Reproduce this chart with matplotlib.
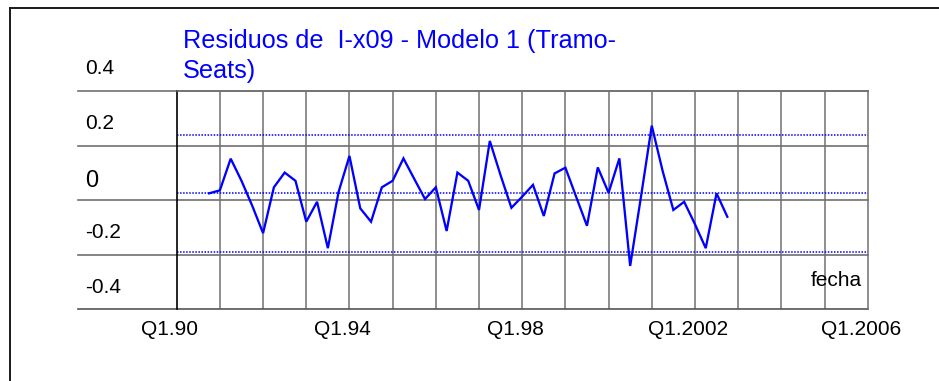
import matplotlib
matplotlib.use("Agg")
import matplotlib.pyplot as plt
import matplotlib.transforms as mtransforms
from matplotlib.lines import Line2D
import pandas as pd

plt.rcParams["font.family"] = ["Liberation Sans", "DejaVu Sans"]

# Quarterly residuals of model 1 (TRAMO-SEATS), 1990Q4 .. 2002Q4
start_quarter = "1990Q4"
residuals = [
    0.025, 0.036, 0.152, 0.071, -0.021, -0.121, 0.047, 0.101, 0.071, -0.079,
    -0.006, -0.176, 0.031, 0.162, -0.030, -0.079, 0.047, 0.071, 0.153, 0.078,
    0.004, 0.047, -0.113, 0.101, 0.071, -0.036, 0.217, 0.091, -0.028, 0.013,
    0.056, -0.058, 0.098, 0.119, 0.012, -0.094, 0.120, 0.027, 0.153, -0.241,
    0.012, 0.273, 0.108, -0.036, -0.006, -0.088, -0.176, 0.025, -0.061,
]

# Mean and +/- 2 sigma reference lines
mean_level = 0.025
upper_band = 0.239
lower_band = -0.189

y_ticks = [0.4, 0.2, 0.0, -0.2, -0.4]
y_labels = ["0.4", "0.2", "0", "-0.2", "-0.4"]
x_ticks = [1990, 1994, 1998, 2002, 2006]
x_labels = ["Q1.90", "Q1.94", "Q1.98", "Q1.2002", "Q1.2006"]
grid_years = list(range(1990, 2007))

title_lines = ["Residuos de  I-x09 - Modelo 1 (Tramo-", "Seats)"]
x_name = "fecha"

periods = pd.period_range(start_quarter, periods=len(residuals), freq="Q")
t = [p.year + (p.quarter - 1) / 4 for p in periods]

W, H = 939, 381
fig = plt.figure(figsize=(W / 100, H / 100), dpi=100)
fig.patch.set_facecolor("white")

ax_l, ax_r, ax_top, ax_bot = 176.7, 867.7, 91.0, 309.3
ax = fig.add_axes([ax_l / W, 1 - ax_bot / H, (ax_r - ax_l) / W, (ax_bot - ax_top) / H])
ax.set_xlim(1990, 2006)
ax.set_ylim(-0.4, 0.4)

grid_col = "#707070"
# vertical grid
for yr in grid_years[1:-1]:
    ax.axvline(yr, color=grid_col, lw=1.1, zorder=1)
# horizontal grid, extended to the left under the labels
ext = (78 - ax_l) / (ax_r - ax_l)
for v in y_ticks:
    col = "#555555" if v == -0.4 else grid_col
    ax.axhline(v, xmin=ext, xmax=1, color=col, lw=1.2, clip_on=False, zorder=1)

for side in ["top", "right"]:
    ax.spines[side].set_color(grid_col)
    ax.spines[side].set_linewidth(1.1)
ax.spines["bottom"].set_visible(False)
ax.spines["left"].set_color("black")
ax.spines["left"].set_linewidth(1.2)

# reference lines
for lvl in (upper_band, mean_level, lower_band):
    ax.axhline(lvl, color="#0000ff", lw=1.1, linestyle=(0, (1.0, 1.0)), zorder=2)

ax.plot(t, residuals, color="#0000ff", lw=1.65, zorder=3, solid_joinstyle="miter")

# ticks
ax.set_yticks([])
ax.set_xticks(x_ticks)
ax.set_xticklabels(x_labels, fontsize=15)
ax.tick_params(axis="x", length=0, pad=8)
shift = mtransforms.ScaledTranslation(-7 / 100, 0, fig.dpi_scale_trans)
for lab in ax.get_xticklabels():
    lab.set_transform(lab.get_transform() + shift)

# y labels sit above their grid lines
blend = mtransforms.blended_transform_factory(fig.transFigure, ax.transData)
for v, s in zip(y_ticks, y_labels):
    up = 19 if s == "0" else 22
    tr = blend + mtransforms.ScaledTranslation(0, up / 100, fig.dpi_scale_trans)
    fig.text(85 / W, v, s, transform=tr, fontsize=17 if s == "0" else 15,
             ha="left", va="center")

ax.text(0.992, 0.13, x_name, transform=ax.transAxes, fontsize=15, ha="right", va="center")

# two-line title
for line, base in zip(title_lines, (48.3, 78.0)):
    fig.text(182.7 / W, 1 - base / H, line, color="#0000ff", fontsize=18.2,
             ha="left", va="baseline")

# outer frame (left and top edges)
fig.add_artist(Line2D([10 / W, 10 / W], [-0.05, 1 - 8.3 / H], transform=fig.transFigure,
                      color="#1a1a1a", lw=1.4))
fig.add_artist(Line2D([10 / W, 1.05], [1 - 8.3 / H, 1 - 8.3 / H], transform=fig.transFigure,
                      color="#1a1a1a", lw=1.4))

fig.savefig("out.png", dpi=100)
